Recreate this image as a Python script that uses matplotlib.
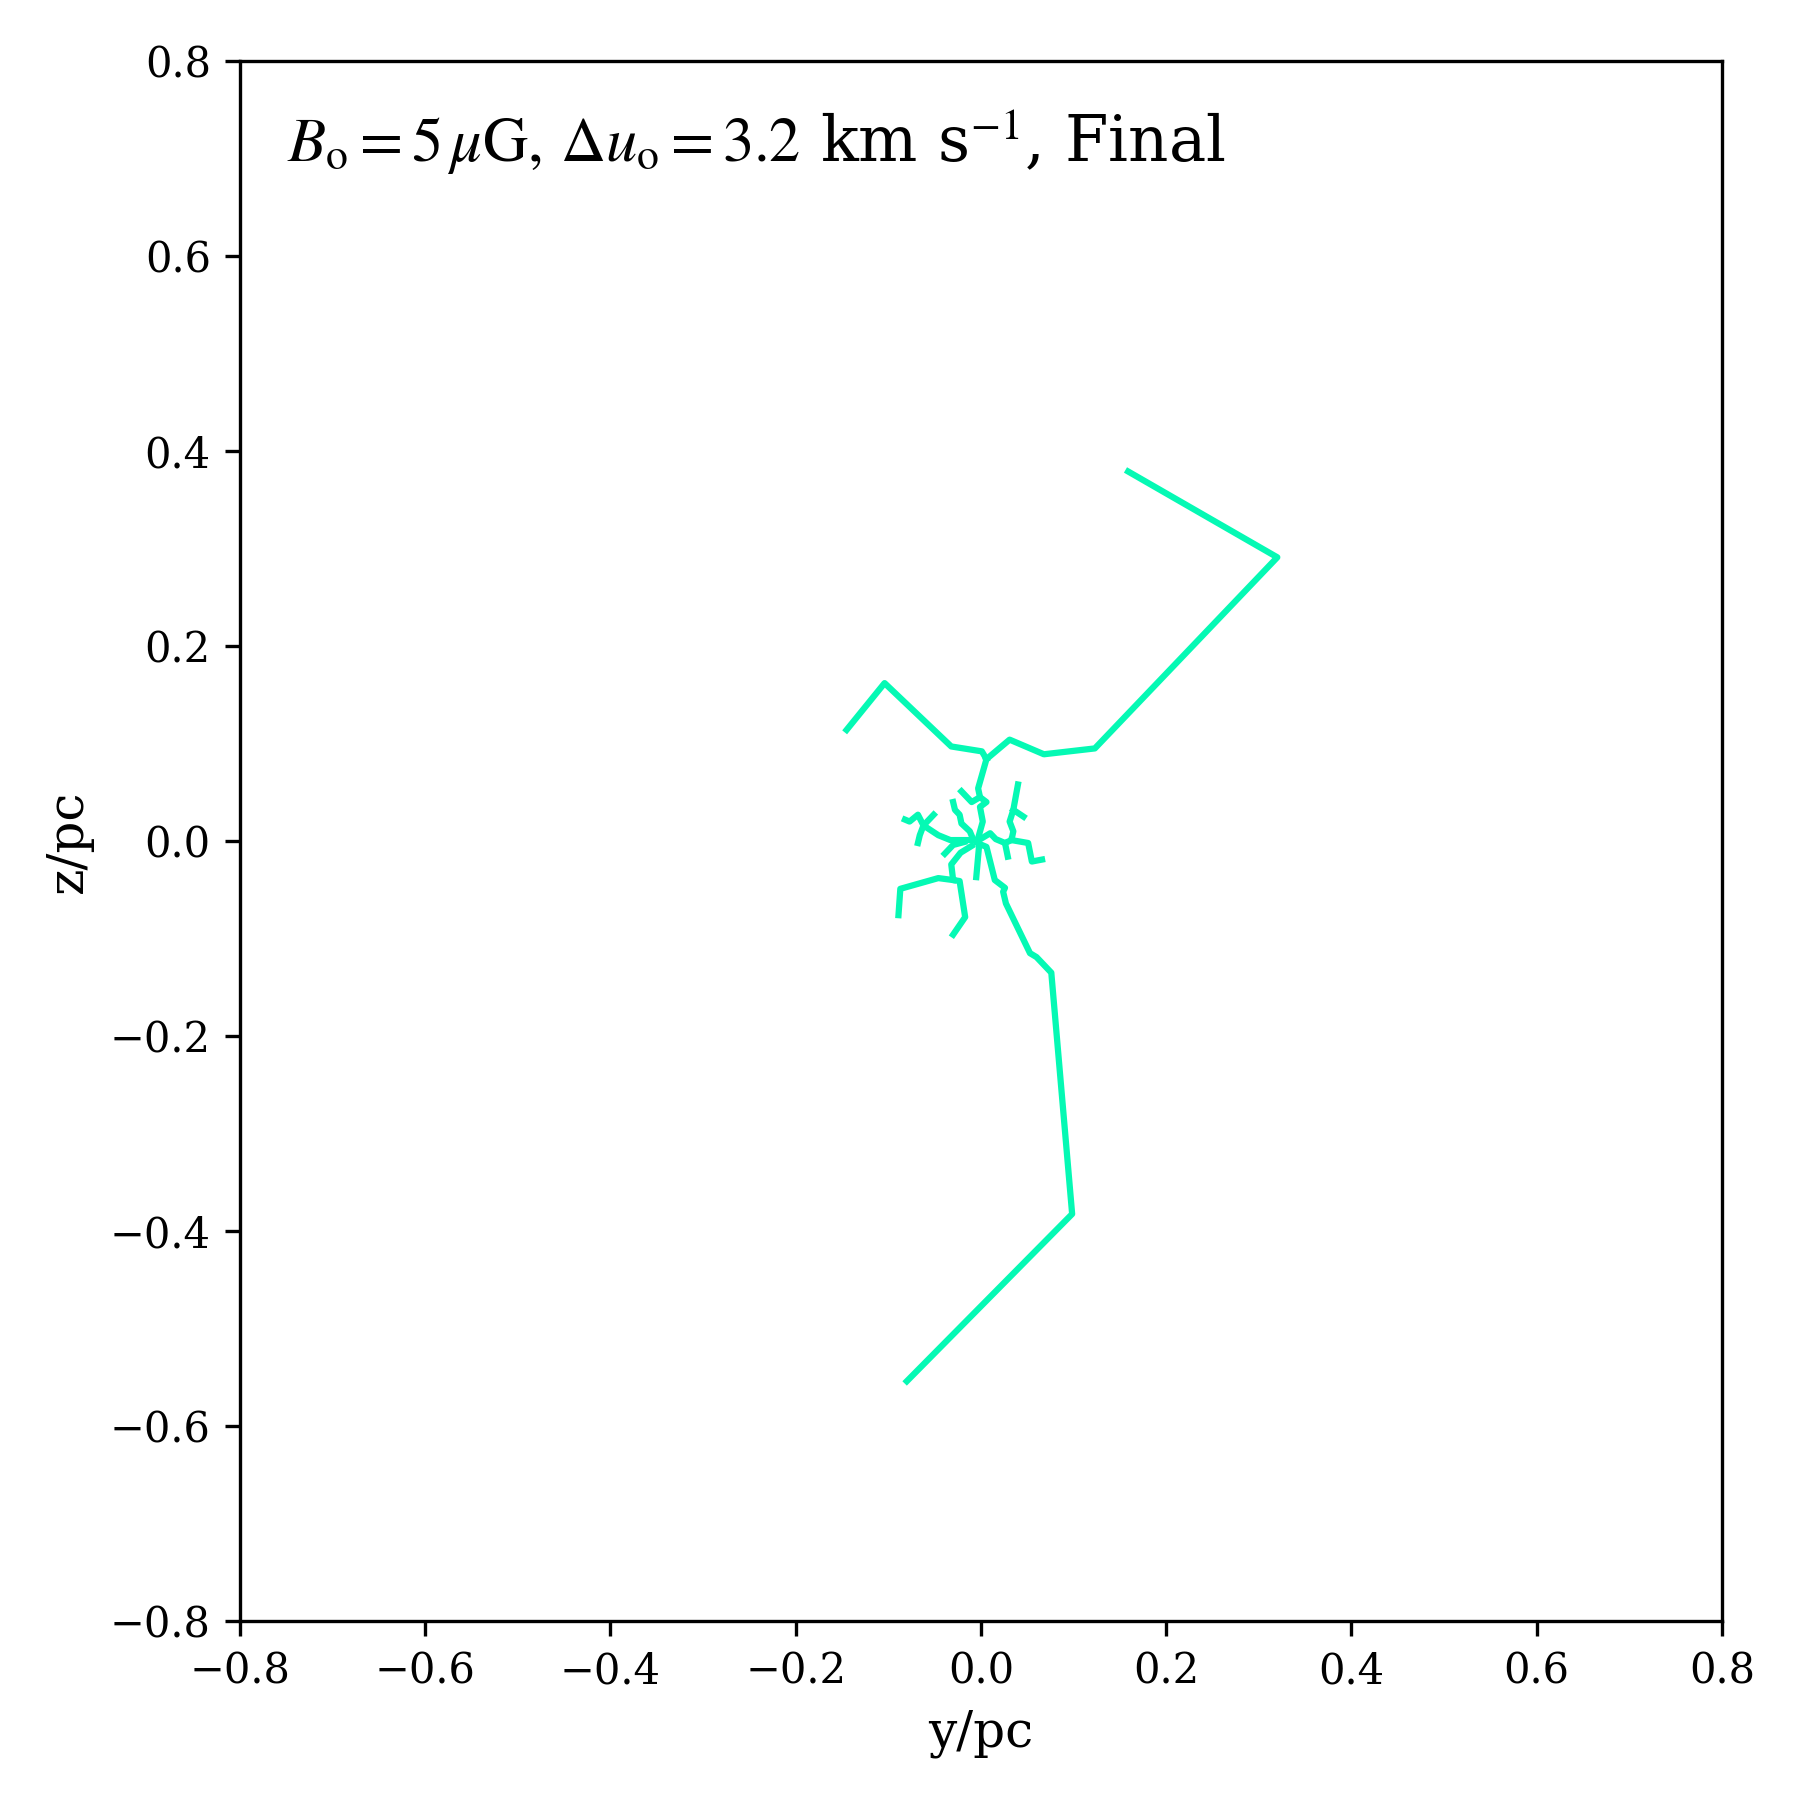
import matplotlib
matplotlib.use("Agg")
import matplotlib.pyplot as plt

plt.rcParams['font.family'] = 'serif'
plt.rcParams['mathtext.fontset'] = 'stix'

# filament branches (y/pc, z/pc)
top_right_y = [0.159, 0.320, 0.123, 0.068, 0.031, 0.006]
top_right_z = [0.379, 0.291, 0.095, 0.089, 0.104, 0.084]

top_left_y = [-0.145, -0.104, -0.032, 0.001, 0.006]
top_left_z = [0.114, 0.162, 0.097, 0.092, 0.084]

trunk_y = [0.006, -0.003, -0.001, 0.006, -0.001, 0.002, -0.003]
trunk_z = [0.084, 0.054, 0.045, 0.040, 0.035, 0.020, 0.003]

hook_y = [-0.021, -0.010, -0.001]
hook_z = [0.051, 0.040, 0.045]

upper_small_y = [-0.030, -0.028, -0.023, -0.021, -0.012, -0.008]
upper_small_z = [0.040, 0.032, 0.027, 0.018, 0.010, 0.001]

left_y = [-0.008, -0.033, -0.046, -0.062, -0.068, -0.077, -0.082]
left_z = [0.001, 0.001, 0.006, 0.016, 0.027, 0.020, 0.022]

cross_y = [-0.051, -0.062, -0.066, -0.068]
cross_z = [0.027, 0.016, 0.006, -0.002]

stub_y = [-0.018, -0.030, -0.039]
stub_z = [-0.001, -0.004, -0.013]

low_left_y = [-0.010, -0.022, -0.032, -0.030, -0.023, -0.017, -0.030]
low_left_z = [-0.005, -0.012, -0.024, -0.040, -0.041, -0.078, -0.096]

low_left2_y = [-0.030, -0.046, -0.087, -0.089]
low_left2_z = [-0.040, -0.038, -0.049, -0.076]

down_y = [-0.002, -0.005]
down_z = [-0.005, -0.037]

bottom_y = [-0.004, 0.006, 0.015, 0.026, 0.024, 0.027, 0.053, 0.060, 0.076, 0.0985, -0.080]
bottom_z = [-0.002, -0.006, -0.040, -0.048, -0.052, -0.064, -0.115, -0.119, -0.135, -0.3825, -0.554]

right1_y = [-0.004, 0.010, 0.016, 0.026, 0.033, 0.035, 0.031, 0.035, 0.040]
right1_z = [0.0, 0.008, 0.002, -0.002, 0.001, 0.010, 0.020, 0.032, 0.058]

right2_y = [0.035, 0.046]
right2_z = [0.032, 0.025]

right3_y = [0.033, 0.051, 0.055, 0.066]
right3_z = [0.001, -0.002, -0.021, -0.019]

right4_y = [0.026, 0.029]
right4_z = [-0.002, -0.016]

branches = [
    (top_right_y, top_right_z), (top_left_y, top_left_z), (trunk_y, trunk_z),
    (hook_y, hook_z), (upper_small_y, upper_small_z), (left_y, left_z),
    (cross_y, cross_z), (stub_y, stub_z), (low_left_y, low_left_z),
    (low_left2_y, low_left2_z), (down_y, down_z), (bottom_y, bottom_z),
    (right1_y, right1_z), (right2_y, right2_z), (right3_y, right3_z),
    (right4_y, right4_z),
]

fig = plt.figure(figsize=(6, 6), dpi=300)
ax = fig.add_axes([0.1333, 0.0994, 0.8233, 0.8667])

for by, bz in branches:
    ax.plot(by, bz, color='#05F9B4', lw=1.5)

ax.set_xlim(-0.8, 0.8)
ax.set_ylim(-0.8, 0.8)
ax.set_xlabel('y/pc', fontsize=12)
ax.set_ylabel('z/pc', fontsize=12)
ax.tick_params(labelsize=10)

ax.text(0.032, 0.948, r'$B_{\rm o}=5\,\mu{\rm G},\,\Delta u_{\rm o}=3.2$ km s$^{-1}$, Final',
        transform=ax.transAxes, fontsize=15, va='center', ha='left')

fig.savefig('out.png', dpi=300)
